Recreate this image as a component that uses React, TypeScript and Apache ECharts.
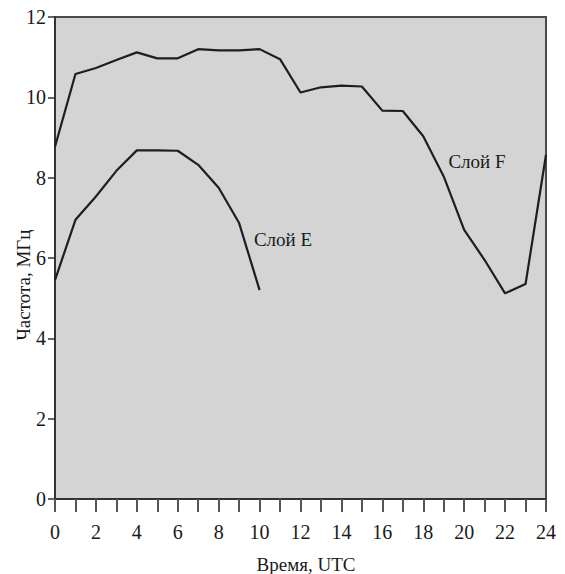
import React, { useEffect, useRef } from "react";
import * as echarts from "echarts";

const hours = [0, 1, 2, 3, 4, 5, 6, 7, 8, 9, 10, 11, 12, 13, 14, 15, 16, 17, 18, 19, 20, 21, 22, 23, 24];
const layerF = [8.77, 10.58, 10.73, 10.93, 11.12, 10.97, 10.97, 11.2, 11.17, 11.17, 11.2, 10.95, 10.12, 10.25, 10.29, 10.27, 9.67, 9.66, 9.03, 8.03, 6.7, 5.95, 5.12, 5.35, 8.57];
const layerEHours = [0, 1, 2, 3, 4, 5, 6, 7, 8, 9, 10];
const layerE = [5.45, 6.95, 7.53, 8.17, 8.68, 8.68, 8.67, 8.32, 7.75, 6.87, 5.2];
const xLabelHours = [0, 2, 4, 6, 8, 10, 12, 14, 16, 18, 20, 22, 24];
const yTicks = [0, 2, 4, 6, 8, 10, 12];

const FONT = "'Liberation Serif', 'Times New Roman', serif";

export default function App() {
  const ref = useRef<HTMLDivElement>(null);
  useEffect(() => {
    if (!ref.current) return;
    const chart = echarts.init(ref.current, null, { renderer: "svg" });
    chart.setOption({
      animation: false,
      backgroundColor: "#ffffff",
      textStyle: { fontFamily: FONT },
      grid: {
        left: 55,
        right: 19,
        top: 17,
        bottom: 75,
        show: true,
        backgroundColor: "#d4d4d4",
        borderColor: "#4a4a4a",
        borderWidth: 2,
      },
      xAxis: {
        type: "value",
        min: 0,
        max: 24,
        interval: 1,
        axisLine: { show: true, lineStyle: { color: "#333", width: 2 } },
        axisTick: { show: true, inside: false, length: 13, lineStyle: { color: "#555", width: 2 } },
        splitLine: { show: false },
        axisLabel: {
          fontFamily: FONT,
          fontSize: 20,
          color: "#1a1a1a",
          margin: 23,
          formatter: (v: number) => (xLabelHours.includes(v) ? String(v) : ""),
        },
      },
      yAxis: {
        type: "value",
        min: 0,
        max: 12,
        interval: 2,
        axisLine: { show: true, lineStyle: { color: "#333", width: 2 } },
        axisTick: { show: true, inside: false, length: 7, lineStyle: { color: "#333", width: 1.5 } },
        splitLine: { show: false },
        axisLabel: {
          fontFamily: FONT,
          fontSize: 20,
          color: "#1a1a1a",
          margin: 9,
          formatter: (v: number) => (yTicks.includes(v) ? String(v) : ""),
        },
      },
      series: [
        {
          name: "Слой F",
          type: "line",
          data: hours.map((h, i) => [h, layerF[i]]),
          showSymbol: false,
          lineStyle: { color: "#1e1e1e", width: 2.2 },
        },
        {
          name: "Слой E",
          type: "line",
          data: layerEHours.map((h, i) => [h, layerE[i]]),
          showSymbol: false,
          lineStyle: { color: "#1e1e1e", width: 2.2 },
        },
      ],
      graphic: [
        {
          type: "text",
          x: 283,
          y: 239,
          style: { text: "Слой E", fontFamily: FONT, fontSize: 19, fill: "#1a1a1a", align: "center", verticalAlign: "middle" },
        },
        {
          type: "text",
          x: 477,
          y: 161,
          style: { text: "Слой F", fontFamily: FONT, fontSize: 19, fill: "#1a1a1a", align: "center", verticalAlign: "middle" },
        },
        {
          type: "text",
          x: 306,
          y: 564,
          style: { text: "Время, UTC", fontFamily: FONT, fontSize: 19, fill: "#1a1a1a", align: "center", verticalAlign: "middle" },
        },
        {
          type: "text",
          x: 23,
          y: 285,
          rotation: Math.PI / 2,
          style: { text: "Частота, МГц", fontFamily: FONT, fontSize: 19, fill: "#1a1a1a", align: "center", verticalAlign: "middle" },
        },
      ],
    });
    return () => chart.dispose();
  }, []);
  return <div ref={ref} style={{ width: 565, height: 574, position: "absolute", left: 0, top: 0 }} />;
}
